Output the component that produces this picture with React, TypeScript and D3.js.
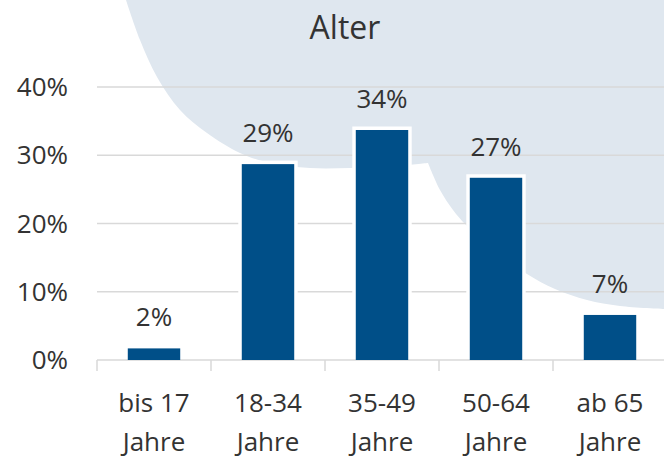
import React from 'react';
import * as d3 from 'd3';

// Altersverteilung
const title = 'Alter';
const categories = [['bis 17', 'Jahre'], ['18-34', 'Jahre'], ['35-49', 'Jahre'], ['50-64', 'Jahre'], ['ab 65', 'Jahre']];
const values = [1.7, 28.7, 33.7, 26.7, 6.6];
const valueLabels = ['2%', '29%', '34%', '27%', '7%'];
const yTicks = [0, 10, 20, 30, 40];

// decorative background blob (two overlapping circles)
const blobLeft: [number, number][] = [[126, 0], [140, 40], [157, 77], [180, 110], [207, 133], [240, 153], [270, 163], [310, 168], [350, 168], [395, 166], [428, 163]];
const blobRight: [number, number][] = [[428, 163], [440, 190], [453, 210], [466, 225], [492, 248], [527, 274], [555, 289], [587, 300], [620, 306], [664, 309]];

const W = 664, H = 462;
const font = '"Open Sans", Lato, sans-serif';
const textColor = '#333333';
const barColor = '#004f88';
const gridColor = '#d9d9d9';

export default function App() {
  const x = d3.scaleBand<number>()
    .domain(d3.range(categories.length))
    .range([97, 667])
    .paddingInner(0.54)
    .paddingOuter(0.27);
  const y = d3.scaleLinear().domain([0, 40]).range([360, 87]);

  const line = d3.line().curve(d3.curveCatmullRom);
  const blobPath = (line(blobLeft) || '') + (line(blobRight) || '').replace(/^M/, 'L') + 'L664,0Z';

  const step = x.step();
  const tickXs = d3.range(categories.length + 1).map(i => 97 + i * step);
  const cx = (i: number) => (x(i) as number) + x.bandwidth() / 2;

  return (
    <svg width={W} height={H} style={{ position: 'absolute', left: 0, top: 0, background: '#fff' }}>
      <path d={blobPath} fill="#dfe7ef" />
      <text x={345} y={39} textAnchor="middle" fontFamily={font} fontSize={32} fill={textColor}>{title}</text>

      {yTicks.filter(t => t > 0).map(t => (
        <line key={t} x1={97} x2={W} y1={y(t)} y2={y(t)} stroke={gridColor} strokeWidth={1.5} />
      ))}
      {yTicks.map(t => (
        <text key={'l' + t} x={68} y={y(t)} dy="0.35em" textAnchor="end" fontFamily={font} fontSize={26} fill={textColor}>{t}%</text>
      ))}

      <line x1={97} x2={W} y1={y(0)} y2={y(0)} stroke={gridColor} strokeWidth={1.5} />
      {tickXs.map((tx, i) => (
        <line key={'t' + i} x1={tx} x2={tx} y1={y(0)} y2={y(0) + 11} stroke={gridColor} strokeWidth={1.5} />
      ))}

      {values.map((v, i) => {
        const bx = x(i) as number;
        const bw = x.bandwidth();
        return (
          <g key={'b' + i}>
            <rect x={bx - 3.5} y={y(v) - 3.5} width={bw + 7} height={y(0) - y(v) + 2.5} fill="#fff" />
            <rect x={bx} y={y(v)} width={bw} height={y(0) - y(v)} fill={barColor} />
            <text x={cx(i)} y={y(v) - 22} textAnchor="middle" fontFamily={font} fontSize={26} fill={textColor}>{valueLabels[i]}</text>
          </g>
        );
      })}

      {categories.map((c, i) => (
        <text key={'c' + i} textAnchor="middle" fontFamily={font} fontSize={26} fill={textColor}>
          <tspan x={cx(i)} y={412}>{c[0]}</tspan>
          <tspan x={cx(i)} y={451}>{c[1]}</tspan>
        </text>
      ))}
    </svg>
  );
}
